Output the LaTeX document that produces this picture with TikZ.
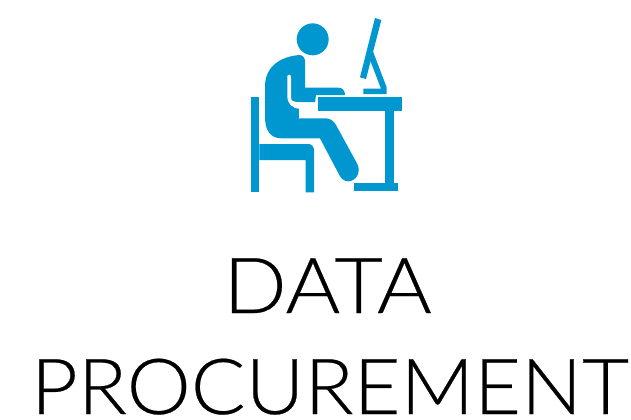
\documentclass[tikz,border=0pt]{standalone}
\usepackage{graphicx}
\usepackage{fontspec}
\setmainfont{Lato Light}[FakeBold=0.3]
\definecolor{iconblue}{HTML}{0096D0}
\tikzset{iconpart/.style={fill=iconblue,draw=none},
 titletext/.style={inner sep=0pt,text=black,anchor=base,font=\fontsize{58}{58}\selectfont}}
\begin{document}
\begin{tikzpicture}[x=0.75pt,y=-0.75pt]
\useasboundingbox (0,0) rectangle (631,419);
\fill[white] (0,0) rectangle (631,419);
\begin{scope}[shift={(240,10)},x=0.25pt,y=-0.25pt]
\fill[iconpart] (218,88) circle[radius=12pt];
\fill[iconpart] (178,135) .. controls (190,135) and (195,145) .. (195,155) -- (195,233) -- (295,233) .. controls (308,233) and (315,243) .. (315,255) -- (228,255) -- (225,276) -- (177,276) -- (177,325) -- (258,325) .. controls (272,325) and (282,335) .. (288,345) -- (352,462) .. controls (365,490) and (345,514) .. (325,514) .. controls (312,514) and (303,505) .. (298,495) -- (240,385) -- (125,385) .. controls (90,385) and (75,360) .. (75,320) -- (75,230) .. controls (75,170) and (120,140) .. (178,135) -- cycle;
\fill[white] (142,200) .. controls (142,192) and (153,192) .. (153,200) -- (153,262) .. controls (153,272) and (160,276) .. (168,276) -- (180,276) -- (180,325) -- (177,325) -- (177,296) .. controls (155,294) and (142,280) .. (142,258) -- cycle;
\fill[iconpart] (233,262) rectangle (487,303);
\fill[iconpart] (435,303) rectangle (462,520);
\fill[iconpart] (342,520) rectangle (475,542);
\fill[iconpart] (32,262) rectangle (58,547);
\fill[iconpart] (58,402) -- (205,402) .. controls (215,402) and (222,410) .. (222,420) -- (222,547) -- (197,547) -- (197,450) -- (58,450) -- cycle;
\fill[iconpart] (405,24) -- (424,30) -- (378,207) -- (360,202) -- cycle;
\fill[iconpart] (398,122) -- (440,232) -- (440,252) -- (370,252) -- (370,236) -- (423,236) -- (390,150) -- cycle;
\end{scope}
\node[titletext] (line1) at (327.5,313) {\scalebox{1.08}[1]{DATA}};
\node[titletext] (line2) at (330,414) {\scalebox{1.047}[1]{PROCUREMENT}};
\end{tikzpicture}
\end{document}
